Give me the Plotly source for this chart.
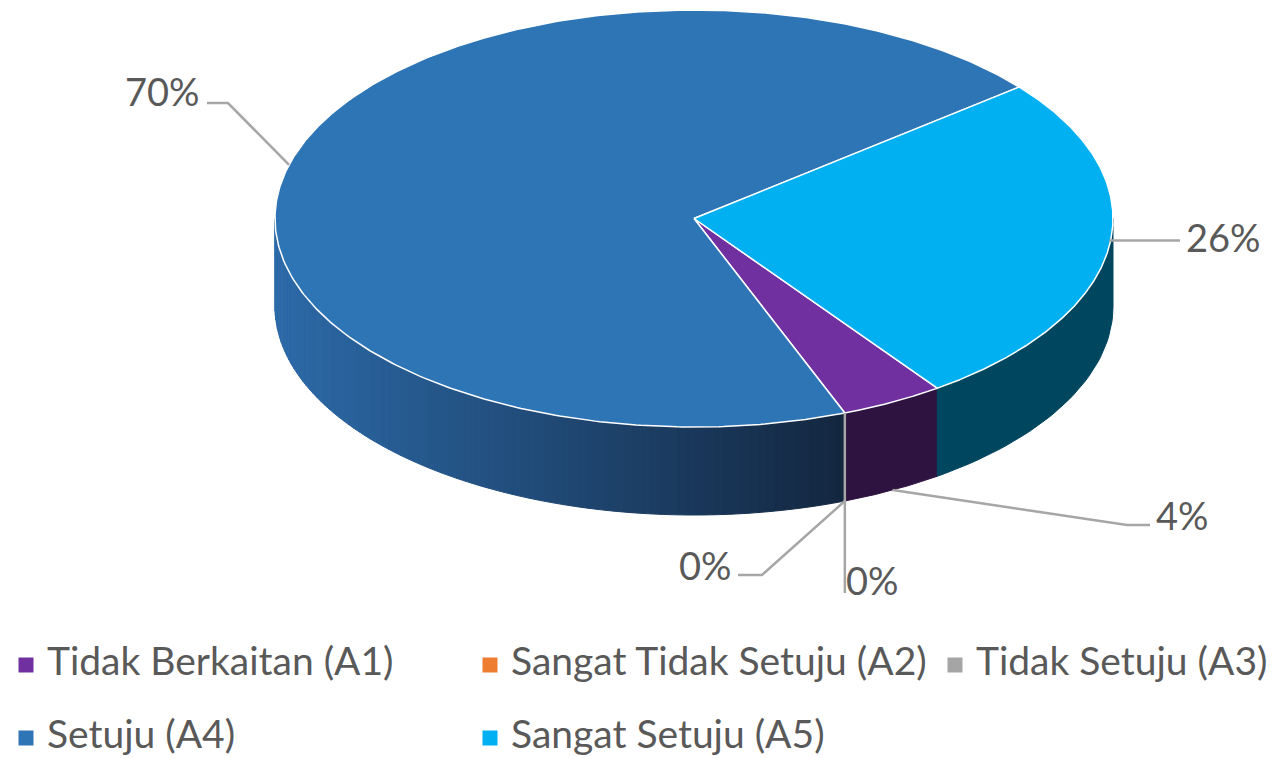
import numpy as np
import plotly.graph_objects as go

# ---------------- data ----------------
categories = ["Tidak Berkaitan (A1)", "Sangat Tidak Setuju (A2)", "Tidak Setuju (A3)",
              "Setuju (A4)", "Sangat Setuju (A5)"]
values = [4, 0, 0, 70, 26]
top_colors = ["#7030A0", "#ED7D31", "#A5A5A5", "#2E75B6", "#00B0F0"]
side_colors = [("#2E1240", "#2E1240"), ("#7A3A10", "#7A3A10"), ("#555555", "#555555"),
               ("#2C6AA8", "#13263F"), ("#00465F", "#00465F")]

# ---------------- layout constants (page pixels) ----------------
W, H = 1272, 758
CX, CY, RX, RY, DEPTH = 694, 218.5, 419, 208.5, 88
START_CW = 144.5          # first slice angle, clockwise from 12 o'clock
FONT = "Lato"
TXT = "#595959"
LEAD = "#A6A6A6"
LBL_SIZE = 38
LEG_SIZE = 39

# label layout: anchor on top(0) or bottom(DEPTH) rim, leader path, text pos/anchor
label_layout = [
    dict(dz=DEPTH, path=[(1127, 525), (1150, 525)], pos=(1154, 515), xa="left"),
    dict(dz=DEPTH, path=[(762, 575), (738, 575)], pos=(734, 565), xa="right"),
    dict(dz=0, path=[(None, 593)], pos=(844, 580), xa="left"),
    dict(dz=0, path=[(228, 103), (207, 103)], pos=(202, 91), xa="right"),
    dict(dz=-6, path=[(1180, None)], pos=(1184, 237), xa="left"),
]


def rim(t, dz=0.0):
    t = np.radians(t)
    return CX + RX * np.cos(t), CY - RY * np.sin(t) + dz


def hex2rgb(h):
    h = h.lstrip("#")
    return np.array([int(h[i:i + 2], 16) for i in (0, 2, 4)], dtype=float)


def lerp_color(c0, c1, f):
    c = hex2rgb(c0) * (1 - f) + hex2rgb(c1) * f
    return "rgb(%d,%d,%d)" % tuple(np.round(c).astype(int))


fig = go.Figure()
total = float(sum(values))

# slice angles (math convention, degrees)
slices = []
cum = 0.0
for v in values:
    a0 = START_CW + cum / total * 360
    a1 = a0 + v / total * 360
    cum += v
    slices.append((90 - a1, 90 - a0))   # (t_lo, t_hi)

# ---------------- side walls (front half only) ----------------
for i, (tlo, thi) in enumerate(slices):
    if values[i] == 0:
        continue
    for k in range(-3, 3):
        lo = max(tlo, -180 + 360 * k)
        hi = min(thi, 360 * k)
        if hi <= lo:
            continue
        c0, c1 = side_colors[i]
        nseg = 90 if c0 != c1 else 1
        edges = np.linspace(lo, hi, nseg + 1)
        xl = rim(-180)[0]
        xr = rim(hi)[0]
        for s in range(nseg):
            ts = np.linspace(edges[s], edges[s + 1], 40)
            xt, yt = rim(ts)
            xb, yb = rim(ts[::-1], DEPTH)
            xs = np.concatenate([xt, xb, xt[:1]])
            ys = np.concatenate([yt, yb, yt[:1]])
            xm = rim((edges[s] + edges[s + 1]) / 2)[0]
            f = 0.0 if c0 == c1 else np.clip((xm - xl) / (xr - xl), 0, 1)
            col = lerp_color(c0, c1, f)
            fig.add_trace(go.Scatter(x=xs, y=ys, mode="lines", fill="toself",
                                     fillcolor=col, line=dict(color=col, width=1),
                                     hoverinfo="skip", showlegend=False))

# ---------------- top faces ----------------
for i, (tlo, thi) in enumerate(slices):
    if values[i] == 0:
        continue
    ts = np.linspace(thi, tlo, 400)
    xa, ya = rim(ts)
    xs = np.concatenate([[CX], xa, [CX]])
    ys = np.concatenate([[CY], ya, [CY]])
    fig.add_trace(go.Scatter(x=xs, y=ys, mode="lines", fill="toself",
                             fillcolor=top_colors[i], line=dict(color="white", width=1.5),
                             name=categories[i], hoverinfo="name", showlegend=False))

# ---------------- data labels with leader lines ----------------
for i, (tlo, thi) in enumerate(slices):
    L = label_layout[i]
    tm = (tlo + thi) / 2
    ax, ay = rim(tm, L["dz"])
    px, py = [ax], [ay]
    for (qx, qy) in L["path"]:
        px.append(ax if qx is None else qx)
        py.append(ay if qy is None else qy)
    fig.add_trace(go.Scatter(x=px, y=py, mode="lines", line=dict(color=LEAD, width=2.5),
                             hoverinfo="skip", showlegend=False))
    pct = "%d%%" % round(values[i] / total * 100)
    fig.add_annotation(x=L["pos"][0], y=L["pos"][1], text=pct, showarrow=False,
                       xanchor=L["xa"], yanchor="middle",
                       font=dict(family=FONT, size=LBL_SIZE, color=TXT))

# ---------------- legend (two rows) ----------------
legend_pos = [(26, 665), (490, 665), (955, 665), (26, 738), (490, 738)]
for i, name in enumerate(categories):
    lx, ly = legend_pos[i]
    fig.add_shape(type="rect", x0=lx - 7.5, x1=lx + 7.5, y0=ly - 7.5, y1=ly + 7.5,
                  xref="x", yref="y", fillcolor=top_colors[i], line=dict(width=0))
    fig.add_annotation(x=lx + 19, y=ly - 5, text=name, showarrow=False,
                       xanchor="left", yanchor="middle",
                       font=dict(family=FONT, size=LEG_SIZE, color=TXT))

fig.update_layout(
    width=W, height=H,
    margin=dict(l=0, r=0, t=0, b=0),
    paper_bgcolor="white", plot_bgcolor="white",
    xaxis=dict(range=[0, W], visible=False, fixedrange=True),
    yaxis=dict(range=[H, 0], visible=False, fixedrange=True),
    showlegend=False,
)

fig.write_html("out.html",
               config={"displayModeBar": False},
               post_script="document.body.style.margin='0';"
                           "document.body.style.overflow='hidden';")
